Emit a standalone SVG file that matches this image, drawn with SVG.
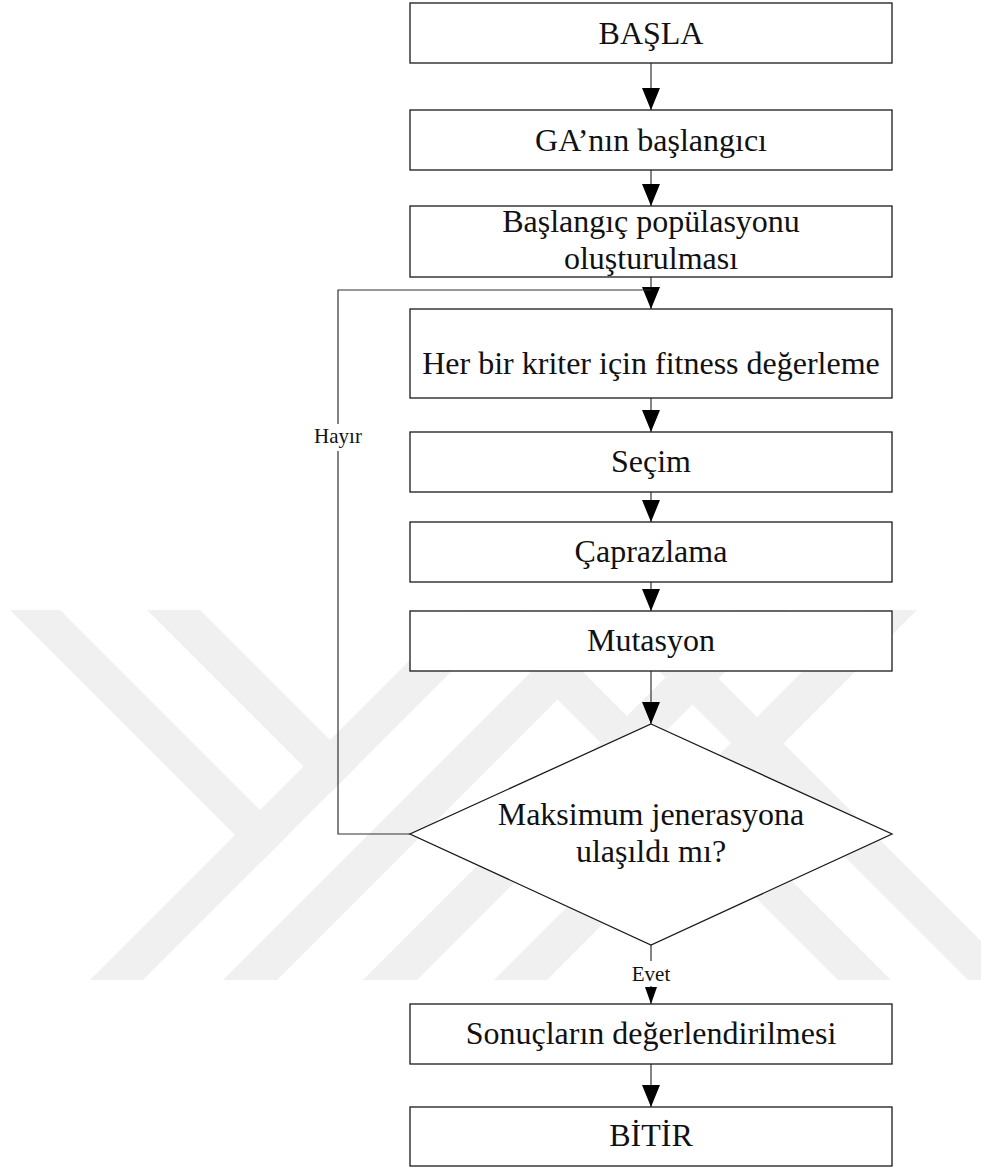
<svg xmlns="http://www.w3.org/2000/svg" width="981" height="1169" viewBox="0 0 981 1169">
<style>
.box{fill:#fff;stroke:#1a1a1a;stroke-width:1.3}
.t{font-family:"Liberation Serif","Times New Roman",serif;font-size:32px;fill:#111;text-anchor:middle}
.lbl{font-family:"Liberation Serif","Times New Roman",serif;font-size:21px;fill:#111;text-anchor:middle}
.c{fill:none;stroke:#333;stroke-width:1.2}
.wm{fill:#f0f0f0}
</style>
<defs>
<marker id="ah" markerUnits="userSpaceOnUse" markerWidth="22" markerHeight="18" refX="22" refY="9" orient="auto">
<path d="M0,0 L22,9 L0,18 Z" fill="#000"/>
</marker>
<marker id="ahs" markerUnits="userSpaceOnUse" markerWidth="17" markerHeight="12" refX="17" refY="6" orient="auto">
<path d="M0,0 L17,6 L0,12 Z" fill="#000"/>
</marker>
<clipPath id="wmclip"><rect x="0" y="610" width="981" height="370"/></clipPath>
</defs>
<rect width="981" height="1169" fill="#fff"/>
<g id="watermark" clip-path="url(#wmclip)">
<polygon class="wm" points="10,610 60,610 286.5,836.5 261.5,861.5"/>
<polygon class="wm" points="147,610 200,610 356.5,766.5 330,793"/>
<polygon class="wm" points="460,610 513,610 143,980 90,980"/>
<polygon class="wm" points="593,610 647,610 277,980 223,980"/>
<polygon class="wm" points="733,610 787,610 417,980 363,980"/>
<polygon class="wm" points="864,610 917,610 547,980 494,980"/>
<polygon class="wm" points="521,610 468,610 838,980 891,980"/>
<polygon class="wm" points="650,610 598,610 968,980 1020,980"/>
</g>
<g id="connectors">
<path class="c" d="M651,63 V110" marker-end="url(#ah)"/>
<path class="c" d="M651,170 V206" marker-end="url(#ah)"/>
<path class="c" d="M651,277 V309" marker-end="url(#ah)"/>
<path class="c" d="M651,398 V432" marker-end="url(#ah)"/>
<path class="c" d="M651,492 V522" marker-end="url(#ah)"/>
<path class="c" d="M651,582 V611" marker-end="url(#ah)"/>
<path class="c" d="M651,671 V724" marker-end="url(#ah)"/>
<path class="c" d="M651,945 V961 M651,986 V1004" marker-end="url(#ahs)"/>
<path class="c" d="M651,1064 V1107" marker-end="url(#ah)"/>
<path class="c" d="M410,834 H338 V451 M338,424 V290 H651"/>
<text class="lbl" x="338" y="443">Hayır</text>
<text class="lbl" x="651" y="980.5">Evet</text>
</g>
<g id="n-basla">
<rect class="box" x="410" y="3" width="482" height="60"/>
<text class="t" x="651" y="43.5">BAŞLA</text>
</g>
<g id="n-ga">
<rect class="box" x="410" y="110" width="482" height="60"/>
<text class="t" x="651" y="150.5">GA’nın başlangıcı</text>
</g>
<g id="n-pop">
<rect class="box" x="410" y="206" width="482" height="71"/>
<text class="t" x="651" y="232">Başlangıç popülasyonu</text>
<text class="t" x="651" y="268.5">oluşturulması</text>
</g>
<g id="n-fitness">
<rect class="box" x="410" y="309" width="482" height="89"/>
<text class="t" x="651" y="374">Her bir kriter için fitness değerleme</text>
</g>
<g id="n-secim">
<rect class="box" x="410" y="432" width="482" height="60"/>
<text class="t" x="651" y="472">Seçim</text>
</g>
<g id="n-capraz">
<rect class="box" x="410" y="522" width="482" height="60"/>
<text class="t" x="651" y="561.5">Çaprazlama</text>
</g>
<g id="n-mutasyon">
<rect class="box" x="410" y="611" width="482" height="60"/>
<text class="t" x="651" y="650.5">Mutasyon</text>
</g>
<g id="n-karar">
<polygon class="box" points="651,724 892,834 651,945 410,834"/>
<text class="t" x="651" y="825">Maksimum jenerasyona</text>
<text class="t" x="651" y="862">ulaşıldı mı?</text>
</g>
<g id="n-sonuc">
<rect class="box" x="410" y="1004" width="482" height="60"/>
<text class="t" x="651" y="1044">Sonuçların değerlendirilmesi</text>
</g>
<g id="n-bitir">
<rect class="box" x="410" y="1107" width="482" height="59"/>
<text class="t" x="651" y="1146">BİTİR</text>
</g>
</svg>
